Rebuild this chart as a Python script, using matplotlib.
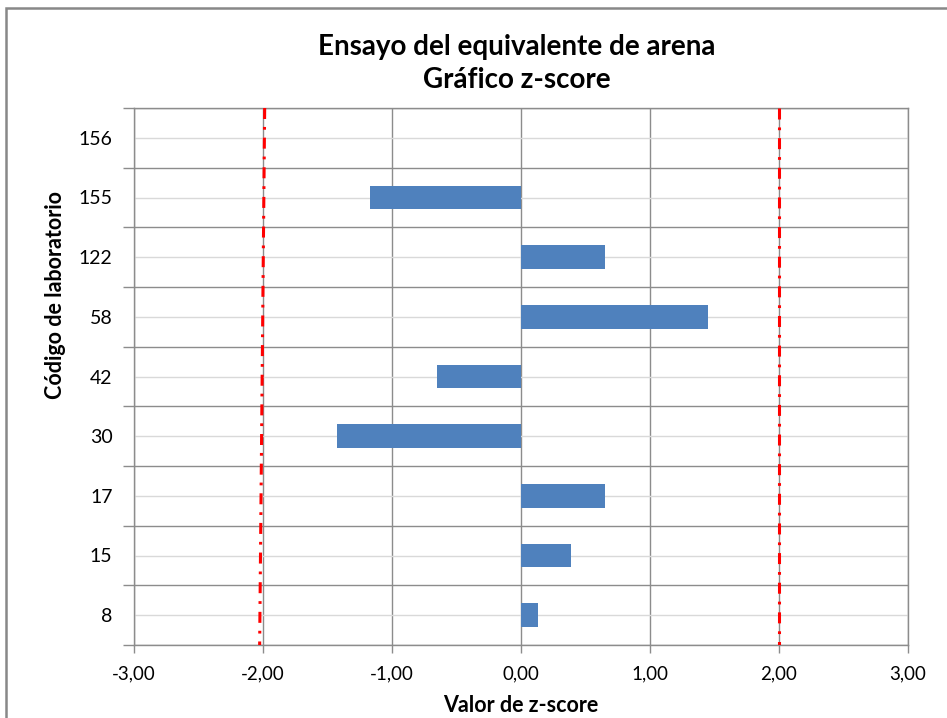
import matplotlib
matplotlib.use("Agg")
import matplotlib.pyplot as plt
from matplotlib.patches import Rectangle
import numpy as np

plt.rcParams['font.family'] = ['Lato', 'DejaVu Sans']

labs = ["8", "15", "17", "30", "42", "58", "122", "155", "156"]
zvals = [0.13, 0.39, 0.65, -1.43, -0.65, 1.45, 0.65, -1.17, np.nan]
xticks = [-3, -2, -1, 0, 1, 2, 3]
xticklabels = ["-3,00", "-2,00", "-1,00", "0,00", "1,00", "2,00", "3,00"]
lim_left_x = [-1.987, -2.026]   # top, bottom
lim_right_x = [2.0, 2.0]

W, H = 947, 718
fig = plt.figure(figsize=(W/100, H/100), dpi=100)
ax = fig.add_axes([134/W, 1-645/H, (908-134)/W, (645-108)/H])

n = len(labs)
ypos = np.arange(n)
ax.barh(ypos, zvals, height=0.4, color='#4F81BD', zorder=3)

ax.set_xlim(-3, 3)
ax.set_ylim(-0.5, n-0.5)
ax.set_xticks(xticks)
ax.set_xticklabels(xticklabels, fontsize=13.5)
ax.set_yticks(ypos)
ax.set_yticklabels(labs, fontsize=14)
ax.set_yticks(np.arange(n+1)-0.5, minor=True)
ax.tick_params(axis='y', which='major', length=0, pad=15.5)
ax.tick_params(axis='y', which='minor', length=8, color='#8C8C8C', width=1)
ax.tick_params(axis='x', which='major', length=6, color='#8C8C8C', width=1, pad=9)
ax.grid(axis='x', which='major', color='#8C8C8C', linewidth=1, zorder=1)
ax.grid(axis='y', which='major', color='#D9D9D9', linewidth=1, zorder=1)
ax.grid(axis='y', which='minor', color='#8C8C8C', linewidth=1, zorder=1)
for s in ax.spines.values():
    s.set_color('#8C8C8C')
    s.set_linewidth(1)
ax.set_axisbelow(True)

ls = (0, (3.6, 2.6, 0.9, 2.6))
ax.plot(lim_left_x, [n-0.5, -0.5], color='#FF0000', lw=2.2, linestyle=ls,
        solid_capstyle='butt', dash_capstyle='butt', zorder=4)
ax.plot(lim_right_x, [n-0.5, -0.5], color='#FF0000', lw=2.2, linestyle=ls,
        solid_capstyle='butt', dash_capstyle='butt', zorder=4)

fig.text(517/W, 1-47/H, "Ensayo del equivalente de arena", ha='center', va='center',
         fontsize=20, fontweight='bold')
fig.text(517/W, 1-80/H, "Gráfico z-score", ha='center', va='center',
         fontsize=20, fontweight='bold')
fig.text(521/W, 1-705/H, "Valor de z-score", ha='center', va='center',
         fontsize=15.5, fontweight='bold')
fig.text(55/W, 1-295/H, "Código de laboratorio", ha='center', va='center',
         rotation=90, fontsize=15.5, fontweight='bold')

fig.patches.append(Rectangle((6/W, -0.1), 1.2, 1-8/H+0.1, transform=fig.transFigure,
                             fill=False, edgecolor='#888888', linewidth=1.8))

fig.savefig("out.png", dpi=100)
